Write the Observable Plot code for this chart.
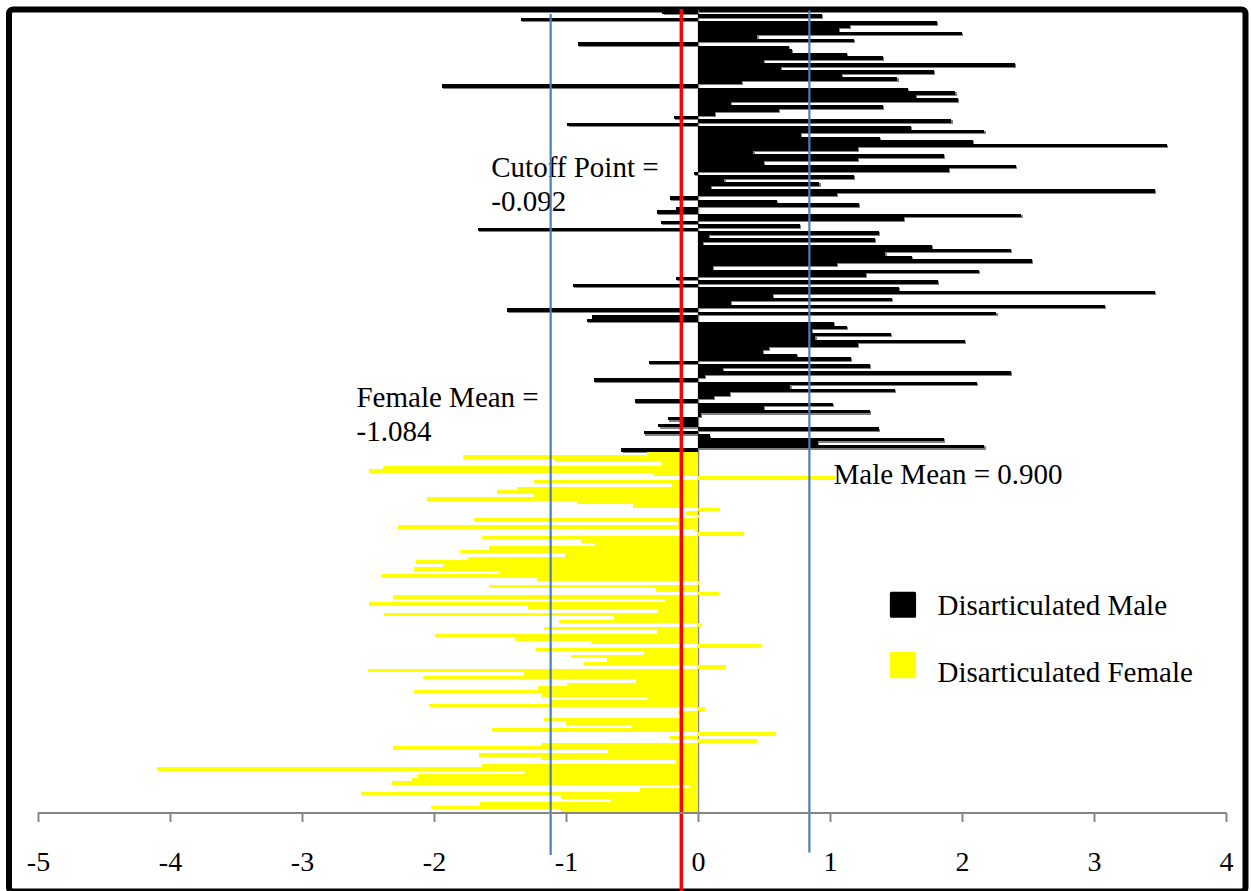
<!DOCTYPE html>
<html>
<head>
<meta charset="utf-8">
<script src="https://cdn.jsdelivr.net/npm/d3@7"></script>
<script src="https://cdn.jsdelivr.net/npm/@observablehq/plot@0.6"></script>
<style>
  html, body { margin: 0; padding: 0; background: #fff; }
  #chart svg { display: block; }
</style>
</head>
<body>
<div id="chart"></div>
<script>
// ---- data ----
const maleValues = [
  -0.27, 0.94, -1.34, 1.81, 1.15, 1.07, 2.00, 0.45, 1.18, -0.91,
  0.69, 0.71, 1.13, 1.40, 0.50, 2.40, 0.63, 1.79, 1.09, 1.51,
  0.33, -1.94, 1.59, 1.95, 1.65, 1.97, 0.25, 1.40, 0.61, 0.13,
  -0.18, 1.92, -0.99, 1.61, 2.17, 0.78, 1.38, 2.08, 3.55, 1.21,
  0.42, 1.86, 1.21, 0.50, 2.41, 1.90, -0.03, 1.18, 0.20, 0.92,
  0.10, 3.46, 1.05, -0.21, 0.60, 1.22, -0.17, -0.31, 2.45, 1.56,
  -0.28, 0.77, -1.67, 1.37, 0.08, 1.34, 0.04, 1.77, 2.37, 1.42,
  1.62, 2.53, 1.05, 0.11, 2.13, 1.27, -0.17, 1.82, -0.95, 1.52,
  3.46, 0.57, 1.47, 0.25, 3.08, -1.45, 2.26, -0.80, -0.84, 1.03,
  1.13, 0.86, 1.46, 0.89, 2.02, 1.21, 0.54, 0.49, 0.75, 1.16,
  -0.37, 1.30, 0.19, 2.37, 0.05, -0.79, 2.11, 0.70, 1.49, 0.24,
  0.12, -0.48, 1.02, 0.50, 1.30, 0.02, -0.23, -0.12, -0.30, 1.37,
  -0.41, 0.09, 1.86, 0.91, 2.17, -0.58
];
const femaleValues = [
  -0.39, -1.78, -1.08, -0.27, -2.39, -2.49, -0.34, 1.04, -1.24, -0.20,
  -1.37, -1.52, -1.24, -2.05, -0.92, -0.49, 0.17, -0.09, 0.01, -1.70,
  -0.15, -2.27, -0.02, 0.35, -1.64, -0.89, -0.78, -1.58, -1.80, -1.01,
  -1.74, -2.14, -1.93, -2.15, -1.50, -2.40, -1.22, 0.01, -1.58, -0.32,
  0.16, -2.31, -0.25, -2.49, -1.29, -0.30, -2.38, -0.64, -1.05, 0.02,
  -1.17, -0.31, -1.99, -1.39, -0.81, 0.48, -1.23, -0.41, -0.96, -0.69,
  -0.86, 0.21, -2.50, -1.32, -2.08, -0.47, -0.99, -1.21, -2.15, -1.18,
  -0.38, -1.13, -2.04, 0.05, -0.15, -0.12, -1.17, -1.00, -0.50, -1.56,
  0.59, -0.22, 0.45, -1.18, -2.31, -0.68, -1.66, -1.19, -0.17, -1.64,
  -4.10, -1.31, -2.12, -2.17, -2.32, -0.06, -0.44, -2.55, -1.04, -0.66,
  -1.65, -2.02, -1.04
];
const seriesNames = ["Disarticulated Male", "Disarticulated Female"];
const xTicks = [-5, -4, -3, -2, -1, 0, 1, 2, 3, 4];
const xTickLabels = ["-5", "-4", "-3", "-2", "-1", "0", "1", "2", "3", "4"];
// reference lines: where they are drawn on the picture, and their labels
const refLineNames = ["Female Mean", "Cutoff Point", "Male Mean"];
const refLineX = [-1.12, -0.13, 0.84];
const refLineText = [["Female Mean =", "-1.084"], ["Cutoff Point =", "-0.092"], ["Male Mean = 0.900"]];

// ---- styles / layout ----
const seriesColors = ["#000000", "#FFFF00"];
const lineColors = ["#4A7EBB", "#FF0000", "#4A7EBB"];
const lineWidths = [2.2, 3.5, 2.2];
const lineInsets = [[3.5, -42.5], [-1.5, -78.5], [0, -40]]; // [top, bottom] px
const labelAnchors = [[-2.591, 113.2], [-1.570, 47.44], [1.023, 135.0]]; // x value, y row of first baseline
const labelLineStep = 9.6; // rows between label lines
const legendSwatch = {x: 1.549, y: [169.52, 186.79]};
const legendText = {x: 1.811, y: [172.4, 191.65]};
const serif = "'Liberation Serif', 'Times New Roman', serif";

// ---- derived table ----
const rows = [
  ...maleValues.map(v => ({series: seriesNames[0], value: v})),
  ...femaleValues.map(v => ({series: seriesNames[1], value: v}))
].map((d, i) => ({...d, row: i}));
const N = rows.length;

const labels = [];
refLineText.forEach((lines, k) => lines.forEach((t, j) => labels.push({
  text: t, x: labelAnchors[k][0], y: labelAnchors[k][1] + j * labelLineStep
})));

const chart = Plot.plot({
  width: 1251,
  height: 891,
  marginLeft: 38,
  marginRight: 25,
  marginTop: 10.55,
  marginBottom: 78.45,
  x: {domain: [xTicks[0], xTicks[xTicks.length - 1]]},
  y: {domain: [0, N], reverse: true, axis: null},
  color: {domain: seriesNames, range: seriesColors},
  style: {fontFamily: serif, background: "white", color: "black"},
  marks: [
    Plot.frame({stroke: "black", strokeWidth: 6, rx: 4,
      insetLeft: -29.5, insetRight: -19, insetTop: -1.5, insetBottom: -78.5}),
    Plot.ruleX([0], {stroke: "#868686", strokeWidth: 1.5}),
    // bar shadows (male)
    Plot.rect(rows.filter(d => d.series === seriesNames[0]), {
      x1: 0, x2: "value", y1: "row", y2: d => d.row + 1,
      fill: "#808080", dx: 1.2, dy: 1.2, shapeRendering: "crispEdges"
    }),
    Plot.rect(rows, {
      x1: 0, x2: "value", y1: "row", y2: d => d.row + 1,
      fill: "series", shapeRendering: "crispEdges"
    }),
    Plot.text(labels, {x: "x", y: "y", text: "text", textAnchor: "start",
      lineAnchor: "bottom", fontSize: 29, fill: "black", fontFamily: serif}),
    ...refLineX.map((v, k) => Plot.ruleX([v], {
      stroke: lineColors[k], strokeWidth: lineWidths[k],
      insetTop: lineInsets[k][0], insetBottom: lineInsets[k][1]
    })),
    // x axis line, ticks and tick labels
    Plot.ruleY([N], {x1: xTicks[0], x2: xTicks[xTicks.length - 1], stroke: "#868686", strokeWidth: 2}),
    Plot.axisX({ticks: xTicks, tickSize: 9.5, stroke: "#868686", strokeWidth: 2,
      tickFormat: () => "", label: null}),
    Plot.text(xTicks, {x: d => d, frameAnchor: "bottom", text: (d, i) => xTickLabels[i],
      dy: 58, lineAnchor: "bottom", textAnchor: "middle", fontSize: 28,
      fill: "black", fontFamily: serif}),
    // legend
    Plot.dot(seriesNames, {x: legendSwatch.x, y: (d, i) => legendSwatch.y[i],
      symbol: "square", r: 13.1, fill: d => d, stroke: d => d, strokeWidth: 3, strokeLinejoin: "round"}),
    Plot.text(seriesNames, {x: legendText.x, y: (d, i) => legendText.y[i], text: d => d,
      textAnchor: "start", lineAnchor: "bottom", fontSize: 29, fill: "black", fontFamily: serif})
  ]
});
document.getElementById("chart").appendChild(chart);
</script>
</body>
</html>
